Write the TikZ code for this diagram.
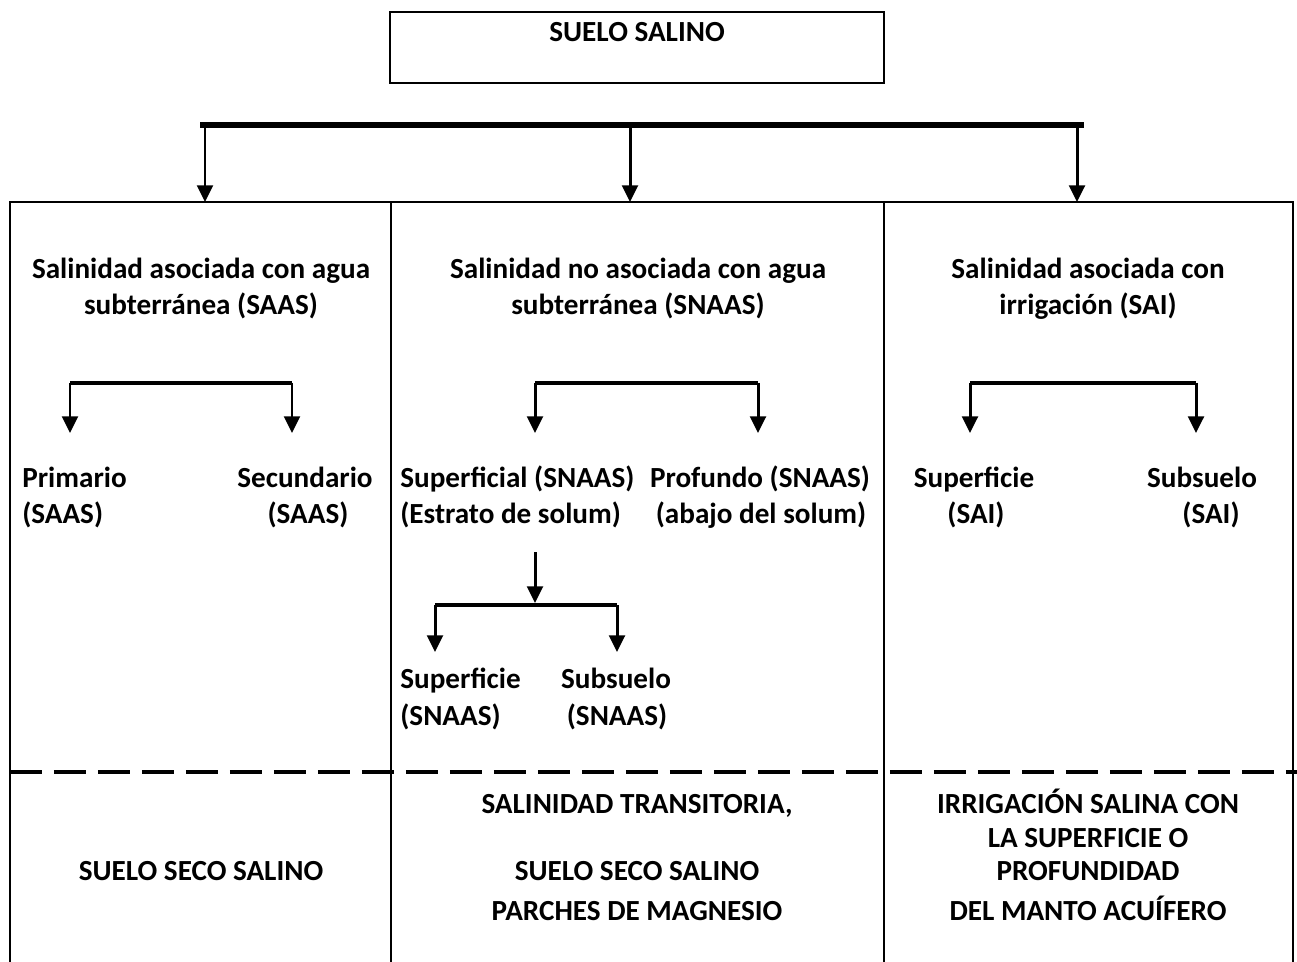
\documentclass[tikz,border=0pt]{standalone}
\usepackage{fontspec}
\setmainfont{Carlito}
\usetikzlibrary{arrows.meta}
\tikzset{
  arr/.style={line width=1.7pt, -{Triangle[length=9.5pt,width=9pt]}},
  ln/.style={line width=1.8pt},
  frame/.style={line width=1.1pt},
  lbl/.style={font=\fontsize{16.6}{20}\selectfont\bfseries, inner sep=0pt, anchor=base},
  lbll/.style={lbl, anchor=base west},
}
\begin{document}
\begin{tikzpicture}[x=0.02cm,y=-0.02cm]
\useasboundingbox (0,0) rectangle (1297,962);
\clip (0,0) rectangle (1297,962);
% top box
\node[draw, frame, minimum width=9.88cm, minimum height=1.42cm, inner sep=0pt] (topbox) at (637,47.5) {};
\node[lbl] (title) at (637,42) {SUELO SALINO};
% main bar and arrows
\coordinate (barL) at (200,125);
\coordinate (barR) at (1084,125);
\draw[line width=3.4pt] (barL) -- (barR);
\coordinate (a1s) at (205,125); \coordinate (a1e) at (205,202);
\coordinate (a2s) at (630,125); \coordinate (a2e) at (630,202);
\coordinate (a3s) at (1077,125); \coordinate (a3e) at (1077,202);
\draw[arr] (a1s) -- (a1e);
\draw[arr] (a2s) -- (a2e);
\draw[arr] (a3s) -- (a3e);
% big frame
\draw[frame] (10,970) -- (10,202) -- (1293,202) -- (1293,970);
\draw[frame] (391,202) -- (391,970);
\draw[frame] (884,202) -- (884,970);
\draw[line width=2.6pt, dash pattern=on 0.64cm off 0.24cm] (10,772) -- (1297,772);
% headings
\node[lbl] (h1a) at (201,279) {Salinidad asociada con agua};
\node[lbl] (h1b) at (201,315) {subterránea (SAAS)};
\node[lbl] (h2a) at (638,279) {Salinidad no asociada con agua};
\node[lbl] (h2b) at (638,315) {subterránea (SNAAS)};
\node[lbl] (h3a) at (1088,279) {Salinidad asociada con};
\node[lbl] (h3b) at (1088,315) {irrigación (SAI)};
% column 1 branches
\coordinate (c1L) at (70,383); \coordinate (c1R) at (292,383);
\coordinate (c1Le) at (70,433); \coordinate (c1Re) at (292,433);
\draw[ln] (c1L) -- (c1R);
\draw[arr] (c1L) -- (c1Le);
\draw[arr] (c1R) -- (c1Re);
\node[lbll] (p1a) at (22,487) {Primario};
\node[lbll] (p1b) at (22,523) {(SAAS)};
\node[lbl] (s1a) at (305,487) {Secundario};
\node[lbl] (s1b) at (308,523) {(SAAS)};
% column 2 branches
\coordinate (c2L) at (535,383); \coordinate (c2R) at (758,383);
\coordinate (c2Le) at (535,433); \coordinate (c2Re) at (758,433);
\draw[ln] (c2L) -- (c2R);
\draw[arr] (c2L) -- (c2Le);
\draw[arr] (c2R) -- (c2Re);
\node[lbll] (sf2a) at (400,487) {Superficial (SNAAS)};
\node[lbll] (sf2b) at (400,523) {(Estrato de solum)};
\node[lbl] (pf2a) at (760,487) {Profundo (SNAAS)};
\node[lbl] (pf2b) at (761,523) {(abajo del solum)};
% sub-branch under Superficial
\coordinate (m2s) at (535,552); \coordinate (m2e) at (535,603);
\draw[arr] (m2s) -- (m2e);
\coordinate (d2L) at (435,605); \coordinate (d2R) at (617,605);
\coordinate (d2Le) at (435,652); \coordinate (d2Re) at (617,652);
\draw[ln] (d2L) -- (d2R);
\draw[arr] (d2L) -- (d2Le);
\draw[arr] (d2R) -- (d2Re);
\node[lbll] (sp2a) at (400,688) {Superficie};
\node[lbll] (sp2b) at (400,725) {(SNAAS)};
\node[lbl] (sb2a) at (616,688) {Subsuelo};
\node[lbl] (sb2b) at (617,725) {(SNAAS)};
% column 3 branches
\coordinate (c3L) at (970,383); \coordinate (c3R) at (1196,383);
\coordinate (c3Le) at (970,433); \coordinate (c3Re) at (1196,433);
\draw[ln] (c3L) -- (c3R);
\draw[arr] (c3L) -- (c3Le);
\draw[arr] (c3R) -- (c3Re);
\node[lbl] (sp3a) at (974,487) {Superficie};
\node[lbl] (sp3b) at (976,523) {(SAI)};
\node[lbl] (sb3a) at (1202,487) {Subsuelo};
\node[lbl] (sb3b) at (1211,523) {(SAI)};
% bottom texts
\node[lbl] (b1) at (201,880) {SUELO SECO SALINO};
\node[lbl] (b2a) at (637,813) {SALINIDAD TRANSITORIA,};
\node[lbl] (b2b) at (637,880) {SUELO SECO SALINO};
\node[lbl] (b2c) at (637,920) {PARCHES DE MAGNESIO};
\node[lbl] (b3a) at (1088,813) {IRRIGACIÓN SALINA CON};
\node[lbl] (b3b) at (1088,847) {LA SUPERFICIE O};
\node[lbl] (b3c) at (1088,880) {PROFUNDIDAD};
\node[lbl] (b3d) at (1088,920) {DEL MANTO ACUÍFERO};
\end{tikzpicture}
\end{document}
